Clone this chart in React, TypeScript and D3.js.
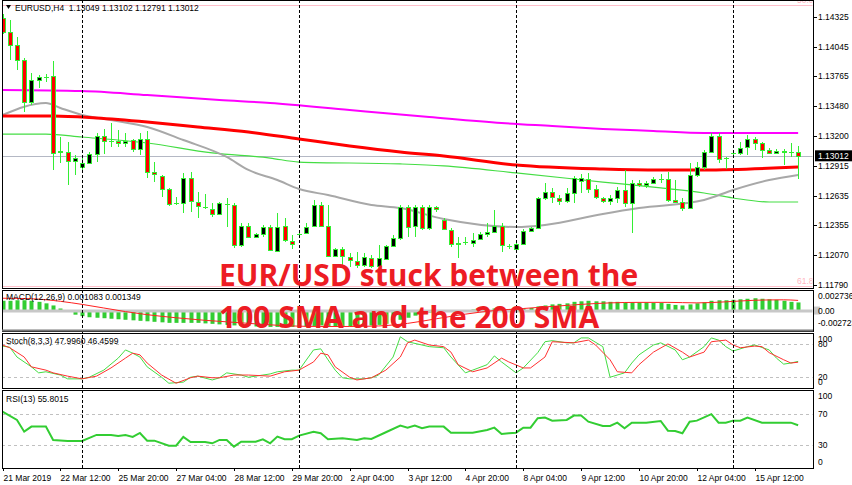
import React from "react";
import * as d3 from "d3";

// ---------- DATA ----------
// EURUSD H4 candles: [open, high, low, close], first bar 21 Mar 2019 04:00
const candles: [number, number, number, number][] = [
  [1.14316, 1.14354, 1.14164, 1.14183],
  [1.14183, 1.14297, 1.13918, 1.1406],
  [1.1406, 1.14136, 1.13824, 1.13918],
  [1.13918, 1.13937, 1.13426, 1.13521],
  [1.13521, 1.13795, 1.13493, 1.13729],
  [1.13729, 1.13776, 1.13654, 1.13758],
  [1.13758, 1.13786, 1.1371, 1.1376],
  [1.13767, 1.13909, 1.12878, 1.13039],
  [1.13048, 1.1319, 1.12944, 1.13058],
  [1.13048, 1.13143, 1.12736, 1.12963],
  [1.12963, 1.1302, 1.12831, 1.12991],
  [1.12906, 1.12991, 1.12878, 1.12944],
  [1.12944, 1.13048, 1.1294, 1.13029],
  [1.13029, 1.13228, 1.12953, 1.132],
  [1.132, 1.13266, 1.13029, 1.13152],
  [1.13152, 1.13322, 1.13095, 1.1315],
  [1.13152, 1.13256, 1.13095, 1.13133],
  [1.13133, 1.13228, 1.13095, 1.13152],
  [1.13162, 1.13171, 1.13048, 1.13076],
  [1.13076, 1.13228, 1.1302, 1.13171],
  [1.13171, 1.13247, 1.12802, 1.12859],
  [1.12859, 1.12953, 1.12764, 1.1284],
  [1.12821, 1.12831, 1.12622, 1.12698],
  [1.12698, 1.12708, 1.12538, 1.12556],
  [1.12566, 1.12622, 1.12547, 1.12564],
  [1.12566, 1.1285, 1.12471, 1.12802],
  [1.12802, 1.12859, 1.12481, 1.12585],
  [1.12575, 1.1267, 1.12424, 1.12538],
  [1.12528, 1.12651, 1.12509, 1.12526],
  [1.12509, 1.12566, 1.12433, 1.12462],
  [1.12462, 1.12575, 1.12452, 1.12566],
  [1.12556, 1.12613, 1.12339, 1.12554],
  [1.12547, 1.12566, 1.1214, 1.12169],
  [1.12169, 1.12376, 1.1215, 1.12348],
  [1.12348, 1.12376, 1.12235, 1.12244],
  [1.12244, 1.12282, 1.12235, 1.12272],
  [1.12272, 1.12358, 1.12244, 1.12339],
  [1.12339, 1.12358, 1.12112, 1.12121],
  [1.12112, 1.12471, 1.12102, 1.12339],
  [1.12348, 1.12424, 1.12197, 1.12216],
  [1.12206, 1.12263, 1.12131, 1.12178],
  [1.12272, 1.1231, 1.12244, 1.12274],
  [1.12282, 1.12376, 1.12272, 1.12339],
  [1.12348, 1.12594, 1.12339, 1.12547],
  [1.12547, 1.12575, 1.12339, 1.12348],
  [1.12348, 1.12547, 1.12055, 1.12064],
  [1.12064, 1.1214, 1.12055, 1.12131],
  [1.12131, 1.1215, 1.11979, 1.12064],
  [1.12055, 1.12093, 1.1196, 1.12026],
  [1.12017, 1.12102, 1.11951, 1.11979],
  [1.11979, 1.12093, 1.1196, 1.12055],
  [1.12045, 1.12074, 1.11951, 1.1197],
  [1.1197, 1.12169, 1.11951, 1.12045],
  [1.12036, 1.12169, 1.12026, 1.12159],
  [1.12159, 1.12263, 1.1215, 1.12235],
  [1.12235, 1.12547, 1.12216, 1.12528],
  [1.12528, 1.12547, 1.12244, 1.12339],
  [1.12348, 1.12547, 1.12244, 1.12528],
  [1.12528, 1.12547, 1.1231, 1.12329],
  [1.12329, 1.12547, 1.1231, 1.12528],
  [1.12528, 1.12538, 1.12481, 1.12509],
  [1.12405, 1.12424, 1.1231, 1.1232],
  [1.1231, 1.12329, 1.1215, 1.12178],
  [1.12178, 1.12244, 1.12045, 1.12188],
  [1.12197, 1.12244, 1.12169, 1.12199],
  [1.12188, 1.12282, 1.1215, 1.12216],
  [1.12225, 1.12291, 1.12216, 1.12272],
  [1.12272, 1.12376, 1.12244, 1.12291],
  [1.12291, 1.125, 1.12282, 1.12348],
  [1.12348, 1.12376, 1.12102, 1.12169],
  [1.12159, 1.12178, 1.12131, 1.12161],
  [1.12131, 1.12197, 1.12121, 1.12178],
  [1.12178, 1.1232, 1.12169, 1.12301],
  [1.12301, 1.12339, 1.12291, 1.12329],
  [1.12329, 1.12622, 1.1232, 1.12613],
  [1.12613, 1.12755, 1.12594, 1.1267],
  [1.1267, 1.12708, 1.12566, 1.12622],
  [1.12613, 1.12641, 1.12547, 1.12585],
  [1.12585, 1.12708, 1.12566, 1.1266],
  [1.1266, 1.12821, 1.12566, 1.12802],
  [1.12774, 1.1284, 1.1266, 1.12802],
  [1.12793, 1.1285, 1.1266, 1.12698],
  [1.12698, 1.12736, 1.12603, 1.12622],
  [1.12613, 1.12622, 1.12566, 1.12585],
  [1.12585, 1.12641, 1.12547, 1.12613],
  [1.12613, 1.12717, 1.12566, 1.12689],
  [1.12689, 1.12878, 1.12528, 1.12566],
  [1.12566, 1.12783, 1.12282, 1.12755],
  [1.12755, 1.12783, 1.12717, 1.12736],
  [1.12736, 1.12774, 1.12708, 1.12755],
  [1.12755, 1.12812, 1.12745, 1.12793],
  [1.12793, 1.1284, 1.12755, 1.12795],
  [1.12793, 1.12859, 1.12575, 1.12594],
  [1.12594, 1.12783, 1.12566, 1.12575],
  [1.12575, 1.12613, 1.1249, 1.12518],
  [1.12518, 1.12944, 1.12509, 1.12831],
  [1.12831, 1.12953, 1.12812, 1.12906],
  [1.12906, 1.13067, 1.12878, 1.13048],
  [1.13048, 1.13228, 1.13039, 1.132],
  [1.132, 1.13228, 1.12944, 1.12982],
  [1.12991, 1.13001, 1.12887, 1.12993],
  [1.13039, 1.13067, 1.1301, 1.13041],
  [1.13039, 1.13143, 1.1302, 1.13086],
  [1.13095, 1.13209, 1.1302, 1.13171],
  [1.13171, 1.1319, 1.13067, 1.13133],
  [1.13133, 1.13143, 1.12991, 1.13067],
  [1.13067, 1.13086, 1.13029, 1.13039],
  [1.13039, 1.13076, 1.13029, 1.13058],
  [1.13058, 1.13076, 1.12925, 1.13048],
  [1.13048, 1.13133, 1.13001, 1.1305],
  [1.13049, 1.13102, 1.12791, 1.13012],
];

// moving averages: [bar, price]
const sma200: [number, number][] = [
  [0, 1.13635], [11, 1.13625], [20, 1.13587], [30, 1.1354], [37, 1.13512], [48, 1.13445],
  [59, 1.13379], [69, 1.13322], [76, 1.13294], [83, 1.13266], [90, 1.13247], [97, 1.13228], [110, 1.13228],
];
const sma100: [number, number][] = [
  [0, 1.13389], [7, 1.13389], [13, 1.1337], [20, 1.13332], [27, 1.13285], [34, 1.13237], [41, 1.13171],
  [48, 1.13105], [55, 1.13048], [61, 1.1301], [71, 1.12925], [83, 1.12887], [91, 1.12878], [97, 1.12878], [110, 1.12906],
];
const smaGray: [number, number][] = [
  [0, 1.13398], [6, 1.13512], [8, 1.13464], [11, 1.13398], [15, 1.13351], [20, 1.13285], [25, 1.13162],
  [31, 1.13001], [34, 1.12878], [38, 1.12783], [41, 1.12698], [45, 1.12641], [51, 1.12547], [55, 1.12518],
  [61, 1.12414], [71, 1.12339], [75, 1.12358], [83, 1.12462], [88, 1.12518], [97, 1.12594], [101, 1.12689],
  [106, 1.12783], [110, 1.12831],
];
const smaGreen: [number, number][] = [
  [0, 1.13218], [6, 1.13218], [11, 1.1319], [20, 1.13133], [29, 1.13039], [37, 1.12991], [41, 1.12953],
  [55, 1.12935], [61, 1.12916], [71, 1.1285], [83, 1.12764], [91, 1.12708], [97, 1.1266], [101, 1.12613],
  [106, 1.12575], [110, 1.12575],
];

const fibLevels: [string, number][] = [["50.0", 1.1444], ["61.8", 1.1178]];
const priceTicks = [1.14325, 1.14045, 1.13765, 1.1348, 1.132, 1.12915, 1.12635, 1.12355, 1.1207, 1.1179];

// MACD(12,26,9) main line per bar (histogram)
const macd = [
  0.0013, 0.0013, 0.00137, 0.00137, 0.0013, 0.00116, 0.00096, 0.00068, 0.00027, -0.00014,
  -0.00055, -0.00075, -0.00089, -0.00096, -0.00102, -0.00109, -0.00116, -0.00123, -0.0013, -0.00137,
  -0.00143, -0.0015, -0.00157, -0.00164, -0.00164, -0.00164, -0.00164, -0.00164, -0.00171, -0.00177,
  -0.00184, -0.00191, -0.00198, -0.00205, -0.00205, -0.00212, -0.00212, -0.00218, -0.00218, -0.00218,
  -0.00218, -0.00218, -0.00212, -0.00205, -0.00198, -0.00205, -0.00212, -0.00212, -0.00212, -0.00212,
  -0.00205, -0.00198, -0.00191, -0.00177, -0.00157, -0.00123, -0.00096, -0.00068, -0.00048, -0.00027,
  -0.00014, -0.00007, 0.0, 0.00007, 0.00007, 0.00014, 0.00014, 0.0002, 0.00027, 0.0002,
  0.0002, 0.0002, 0.00027, 0.00034, 0.00055, 0.00068, 0.00082, 0.00089, 0.00096, 0.00116,
  0.00123, 0.0013, 0.00123, 0.00123, 0.00116, 0.00116, 0.00109, 0.00109, 0.00109, 0.00109,
  0.00102, 0.00102, 0.00089, 0.00075, 0.00068, 0.00082, 0.00096, 0.00109, 0.0013, 0.00137,
  0.00137, 0.00143, 0.0015, 0.00157, 0.00164, 0.00157, 0.0015, 0.00143, 0.0013, 0.00116, 0.00108,
];
const macdSignal: [number, number][] = [
  [0, 0.00164], [4, 0.00157], [8, 0.00123], [11, 0.00082], [14, 0.00034], [17, -0.00014], [20, -0.00055],
  [24, -0.00096], [28, -0.0013], [32, -0.00157], [36, -0.00184], [40, -0.00205], [44, -0.00212], [48, -0.00212],
  [52, -0.00205], [56, -0.00171], [60, -0.00109], [64, -0.00048], [68, 0.0], [72, 0.00027], [76, 0.00055],
  [80, 0.00082], [84, 0.00102], [88, 0.00109], [92, 0.00109], [96, 0.00102], [100, 0.00116], [104, 0.00137],
  [108, 0.00143], [110, 0.00135],
];
const macdAxis = [0.002736, 0, -0.002723];
const macdAxisText = ["0.002736", "0.00", "-0.002723"];

// Stochastic(8,3,3): [bar, value]
const stochMain: [number, number][] = [
  [0, 76], [1, 74], [2, 56], [4, 38], [5, 27], [6, 29], [8, 23], [9, 16], [11, 16], [12, 19], [14, 32], [16, 54],
  [17, 69], [18, 63], [19, 56], [20, 38], [22, 19], [23, 8], [25, 10], [26, 19], [27, 21], [29, 14], [30, 18],
  [31, 27], [33, 23], [34, 19], [36, 23], [37, 25], [38, 29], [40, 32], [41, 32], [43, 69], [44, 71], [45, 51],
  [46, 32], [47, 18], [48, 16], [50, 16], [51, 18], [52, 23], [54, 56], [55, 93], [56, 84], [58, 78], [59, 75],
  [61, 73], [62, 56], [64, 27], [65, 32], [67, 42], [68, 58], [69, 47], [71, 27], [72, 36], [74, 64], [75, 84],
  [76, 86], [78, 82], [79, 82], [80, 91], [81, 91], [83, 75], [84, 19], [86, 27], [87, 45], [88, 60], [90, 78],
  [91, 82], [93, 69], [94, 51], [95, 56], [97, 75], [98, 91], [99, 87], [100, 75], [101, 67], [103, 75],
  [104, 78], [106, 69], [107, 54], [108, 43], [109, 45], [110, 48],
];
const stochSignal: [number, number][] = [
  [0, 78], [1, 73], [3, 56], [4, 38], [6, 32], [7, 27], [9, 21], [11, 16], [13, 21], [15, 36], [17, 54], [18, 63],
  [19, 60], [20, 45], [22, 23], [24, 8], [26, 18], [27, 21], [29, 18], [30, 18], [32, 23], [34, 23], [37, 21],
  [39, 29], [41, 32], [43, 47], [44, 63], [45, 60], [46, 38], [48, 19], [49, 14], [51, 18], [53, 32], [55, 56],
  [56, 82], [57, 87], [59, 78], [61, 75], [62, 65], [63, 42], [65, 29], [67, 36], [69, 54], [70, 47], [72, 36],
  [73, 36], [75, 56], [76, 84], [79, 82], [81, 87], [82, 78], [84, 51], [85, 29], [87, 27], [88, 42], [90, 65],
  [92, 80], [94, 65], [95, 56], [97, 65], [98, 84], [100, 87], [101, 78], [102, 73], [104, 76], [105, 75],
  [106, 64], [108, 51], [109, 45], [110, 46.5],
];
const stochLevels = [80, 20];
const stochAxis = [100, 80, 20, 0];

// RSI(13): [bar, value]
const rsi: [number, number][] = [
  [0, 73.4], [2, 62.7], [3, 47.6], [4, 54.1], [6, 54.1], [7, 36.9], [9, 35.6], [11, 35.6], [13, 43.4], [15, 43.4],
  [16, 42.1], [17, 43.4], [18, 40.8], [19, 45.9], [20, 36.0], [21, 36.0], [23, 29.5], [24, 29.5], [25, 40.8],
  [26, 34.3], [28, 34.3], [29, 32.6], [30, 36.9], [31, 36.9], [32, 28.3], [33, 34.7], [35, 34.7], [36, 37.8],
  [37, 32.6], [38, 41.2], [39, 37.8], [40, 37.8], [41, 42.5], [43, 47.6], [44, 45.5], [45, 37.8], [47, 39.1],
  [49, 36.9], [50, 39.1], [51, 38.2], [53, 46.8], [55, 55.4], [56, 52.8], [57, 55.4], [58, 52.0], [59, 54.1],
  [61, 54.1], [62, 46.3], [65, 46.3], [67, 49.8], [68, 52.8], [69, 44.6], [70, 45.5], [71, 46.3], [72, 52.8],
  [73, 52.8], [74, 64.9], [75, 65.7], [76, 61.8], [78, 62.7], [79, 68.3], [80, 68.3], [81, 60.5], [83, 55.0],
  [84, 55.0], [85, 59.2], [86, 52.0], [87, 59.2], [89, 59.2], [91, 61.4], [92, 48.9], [93, 48.5], [94, 45.5],
  [95, 60.5], [96, 61.8], [98, 70.1], [99, 59.2], [100, 59.2], [101, 61.8], [102, 61.8], [103, 65.7], [105, 59.2],
  [109, 59.2], [110, 55.8],
];
const rsiLevels = [70, 30];
const rsiAxis = [100, 70, 30, 0];

// time axis labels: [bar, label]
const timeLabels: [number, string][] = [
  [0, "21 Mar 2019"], [8, "22 Mar 12:00"], [16, "25 Mar 20:00"], [24, "27 Mar 04:00"], [32, "28 Mar 12:00"],
  [40, "29 Mar 20:00"], [48, "2 Apr 04:00"], [56, "3 Apr 12:00"], [64, "4 Apr 20:00"], [72, "8 Apr 04:00"],
  [80, "9 Apr 12:00"], [88, "10 Apr 20:00"], [96, "12 Apr 04:00"], [104, "15 Apr 12:00"],
];
const weekStarts = [11, 41, 71, 101];

const symbol = "EURUSD,H4";
const stochTitle = "Stoch(8,3,3) 47.9960 46.4599";
const rsiTitle = "RSI(13) 55.8015";
const macdTitle = "MACD(12,26,9) 0.001083 0.001349";
const headline = ["EUR/USD stuck between the", "100 SMA and the 200 SMA"];

// ---------- CHART ----------
const FONT = "'Liberation Sans', Arial, sans-serif";

export default function App() {
  const n = candles.length;
  const L = 2, R = 813;
  const P = {
    main: { top: 0, bottom: 288 },
    macd: { top: 290, bottom: 331 },
    stoch: { top: 333, bottom: 388 },
    rsi: { top: 390, bottom: 468 },
  };
  const x = d3.scaleLinear().domain([0, n - 1]).range([2.5, 2.5 + 7.233 * (n - 1)]);
  const y = d3.scaleLinear().domain([1.1179, 1.14325]).range([285, 17]);
  const ym = d3.scaleLinear().domain([-0.002723, 0.002736]).range([331, 290]);
  const ys = d3.scaleLinear().domain([0, 100]).range([387.6, 333]);
  const yr = d3.scaleLinear().domain([0, 100]).range([468.6, 391]);

  const px = (i: number) => Math.round(x(i)) + 0.5;

  const maLine = (pts: [number, number][], yy: d3.ScaleLinear<number, number>, curve = d3.curveMonotoneX) =>
    d3.line<[number, number]>().x((d) => x(d[0])).y((d) => yy(d[1])).curve(curve)(pts) || "";

  const last = candles[n - 1];
  const fmt = (v: number) => v.toFixed(5);
  const header = `${symbol}  ${fmt(last[0])} ${fmt(last[1])} ${fmt(last[2])} ${fmt(last[3])}`;
  const yClose = y(last[3]);

  const clampLabel = (v: number, top: number, bottom: number) => Math.min(Math.max(v, top + 6), bottom - 6);

  const wick = "#33ee33";

  return (
    <svg width={852} height={485} style={{ position: "absolute", left: 0, top: 0, display: "block", background: "#fff" }}
      fontFamily={FONT}>
      <defs>
        <clipPath id="cMain"><rect x={L + 0.5} y={P.main.top} width={R - L - 1} height={P.main.bottom - P.main.top} /></clipPath>
        <clipPath id="cMacd"><rect x={L + 0.5} y={P.macd.top + 1} width={R - L - 1} height={P.macd.bottom - P.macd.top - 1} /></clipPath>
        <clipPath id="cStoch"><rect x={L + 0.5} y={P.stoch.top + 1} width={R - L - 1} height={P.stoch.bottom - P.stoch.top - 1} /></clipPath>
        <clipPath id="cRsi"><rect x={L + 0.5} y={P.rsi.top + 1} width={R - L - 1} height={P.rsi.bottom - P.rsi.top - 1} /></clipPath>
      </defs>
      <rect x={0} y={0} width={852} height={485} fill="#fff" />

      {/* ---- main panel ---- */}
      <g clipPath="url(#cMain)">
        {fibLevels.map(([lab, v]) => (
          <g key={lab}>
            <line x1={L} x2={R} y1={Math.round(y(v)) + 0.5} y2={Math.round(y(v)) + 0.5} stroke="#ffc0cb" />
            <text x={797} y={y(v) - 2} fontSize={8.5} fill="#ffb6c1">{lab}</text>
          </g>
        ))}
        <line x1={L} x2={R} y1={Math.round(yClose) + 0.5} y2={Math.round(yClose) + 0.5} stroke="#b4b8c4" />
        <path d={maLine(smaGreen, y)} fill="none" stroke="#44dd44" strokeWidth={1.2} />
        <path d={maLine(smaGray, y)} fill="none" stroke="#a8a8a8" strokeWidth={2} />
        <path d={maLine(sma100, y)} fill="none" stroke="#ff0000" strokeWidth={3} />
        <path d={maLine(sma200, y)} fill="none" stroke="#ff00ff" strokeWidth={2} />
        {candles.map(([o, h, l, c], i) => {
          const cx = px(i);
          const yo = Math.round(y(o)), yc = Math.round(y(c));
          const top = Math.min(yo, yc), bot = Math.max(yo, yc);
          const bull = c >= o;
          return (
            <g key={i}>
              <line x1={cx} x2={cx} y1={Math.round(y(h))} y2={Math.round(y(l))} stroke={wick} />
              {bot - top >= 1 ? (
                <rect x={cx - 2} y={top + 0.5} width={4} height={bot - top} fill={bull ? "#000" : "#ff0000"} stroke={wick} />
              ) : (
                <line x1={cx - 2.5} x2={cx + 2.5} y1={top + 0.5} y2={top + 0.5} stroke={wick} />
              )}
            </g>
          );
        })}
      </g>

      {/* ---- MACD panel ---- */}
      <g clipPath="url(#cMacd)">
        {macd.map((v, i) => {
          const y0 = ym(0), y1 = ym(v);
          return <rect key={i} x={Math.round(x(i)) - 1.5} y={Math.min(y0, y1)} width={4} height={Math.abs(y1 - y0)} fill="#32cd32" />;
        })}
        <line x1={L} x2={R} y1={ym(0) + 0.5} y2={ym(0) + 0.5} stroke="#c8c8c8" strokeWidth={3} />
        <path d={maLine(macdSignal, ym)} fill="none" stroke="#ff2020" strokeWidth={1} />
      </g>

      {/* ---- Stoch panel ---- */}
      <g clipPath="url(#cStoch)">
        {stochLevels.map((v) => (
          <line key={v} x1={L} x2={R} y1={Math.round(ys(v)) + 0.5} y2={Math.round(ys(v)) + 0.5} stroke="#c0c0c0" strokeDasharray="3,3" />
        ))}
        <path d={maLine(stochMain, ys, d3.curveLinear)} fill="none" stroke="#44dd44" strokeWidth={1} />
        <path d={maLine(stochSignal, ys, d3.curveLinear)} fill="none" stroke="#ff3030" strokeWidth={1} />
      </g>

      {/* ---- RSI panel ---- */}
      <g clipPath="url(#cRsi)">
        {rsiLevels.map((v) => (
          <line key={v} x1={L} x2={R} y1={Math.round(yr(v)) + 0.5} y2={Math.round(yr(v)) + 0.5} stroke="#c0c0c0" strokeDasharray="3,3" />
        ))}
        <path d={maLine(rsi, yr, d3.curveLinear)} fill="none" stroke="#32cd32" strokeWidth={2} />
      </g>

      {/* week separators */}
      {weekStarts.map((b) => (
        <line key={b} x1={px(b)} x2={px(b)} y1={P.main.top} y2={P.rsi.bottom} stroke="#000" strokeDasharray="3,2" />
      ))}

      {/* panel borders */}
      {[P.main, P.macd, P.stoch, P.rsi].map((p, i) => (
        <rect key={i} x={L + 0.5} y={p.top + 0.5} width={R - L} height={p.bottom - p.top} fill="none" stroke="#000" />
      ))}
      <line x1={L} x2={R} y1={P.macd.bottom - 0.5} y2={P.macd.bottom - 0.5} stroke="#777" strokeWidth={2} />

      {/* header & titles */}
      <path d="M6,5 L11,5 L8.5,9 Z" fill="#000" />
      <text x={15} y={10.5} fontSize={8.5} fill="#000" style={{ whiteSpace: "pre" }}>{header}</text>
      <text x={6} y={P.macd.top + 10} fontSize={8.5} fill="#000">{macdTitle}</text>
      <text x={6} y={P.stoch.top + 11} fontSize={8.5} fill="#000">{stochTitle}</text>
      <text x={6} y={P.rsi.top + 12} fontSize={8.5} fill="#000">{rsiTitle}</text>

      {/* right price axis */}
      {priceTicks.map((v) => (
        <g key={v}>
          <line x1={R} x2={R + 4} y1={Math.round(y(v)) + 0.5} y2={Math.round(y(v)) + 0.5} stroke="#000" />
          <text x={R + 5} y={y(v)} dy="0.35em" fontSize={8.5} fill="#000">{v.toFixed(5)}</text>
        </g>
      ))}
      <rect x={R + 2} y={yClose - 5.5} width={852 - R - 2} height={11} fill="#000" />
      <text x={R + 5} y={yClose} dy="0.35em" fontSize={8.5} fill="#fff">{fmt(last[3])}</text>

      {macdAxis.map((v, i) => (
        <g key={i}>
          {v === 0 && <rect x={R + 1} y={ym(0) - 4} width={6} height={8} fill="#c8c8c8" />}
          <text x={R + 5} y={Math.min(Math.max(ym(v), P.macd.top + 6), P.macd.bottom - 8)} dy="0.35em" fontSize={8.5} fill="#000">
            {macdAxisText[i]}
          </text>
        </g>
      ))}
      {stochAxis.map((v) => (
        <text key={v} x={R + 5} y={clampLabel(ys(v), P.stoch.top, P.stoch.bottom)} dy="0.35em" fontSize={8.5} fill="#000">{v}</text>
      ))}
      {rsiAxis.map((v) => (
        <text key={v} x={R + 5} y={clampLabel(yr(v), P.rsi.top, P.rsi.bottom)} dy="0.35em" fontSize={8.5} fill="#000">{v}</text>
      ))}

      {/* time axis */}
      {timeLabels.map(([b, lab]) => (
        <g key={b}>
          <line x1={px(b)} x2={px(b)} y1={P.rsi.bottom} y2={P.rsi.bottom + 3} stroke="#000" />
          <text x={px(b)} y={481} fontSize={8.5} fill="#000">{lab}</text>
        </g>
      ))}

      {/* headline */}
      <g fontFamily="'Open Sans', sans-serif" fontWeight={700} fontSize={30} fill="#ed1c24">
        <text x={219} y={286}>{headline[0]}</text>
        <text x={219} y={328}>{headline[1]}</text>
      </g>
    </svg>
  );
}
